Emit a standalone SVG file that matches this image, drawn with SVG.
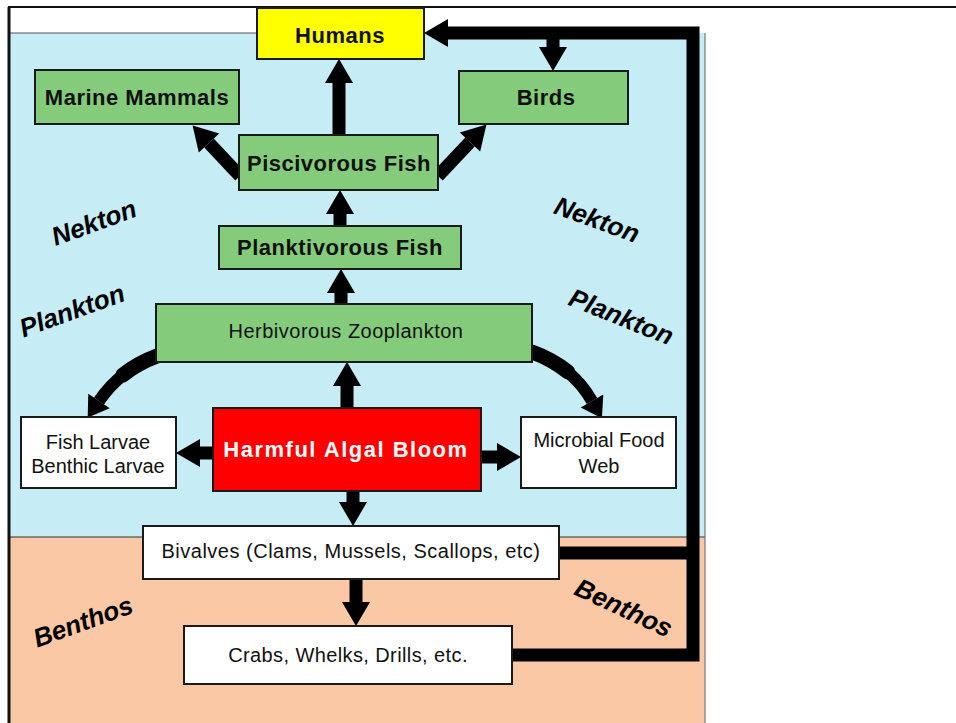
<svg xmlns="http://www.w3.org/2000/svg" width="956" height="723" viewBox="0 0 956 723">
<defs>
<style>
.box{stroke:#1a1a1a;stroke-width:2}
.g{fill:#84cc7c}
.w{fill:#ffffff}
.lb{font-family:"Liberation Sans",Arial,sans-serif;font-weight:bold;font-size:22px;fill:#111;text-anchor:middle;letter-spacing:0.5px}
.lr{font-family:"Liberation Sans",Arial,sans-serif;font-size:20px;fill:#111;text-anchor:middle}
.zone{font-family:"Liberation Sans",Arial,sans-serif;font-weight:bold;font-style:italic;font-size:26px;fill:#000;text-anchor:middle}
.ar{fill:none;stroke:#000;stroke-width:13;marker-end:url(#head)}
.cv{fill:none;stroke:#000;stroke-width:12;marker-end:url(#headS)}
.taper{fill:none;stroke:#000;stroke-width:15;stroke-linecap:round}
</style>
<marker id="head" markerUnits="userSpaceOnUse" markerWidth="30" markerHeight="30" refX="0" refY="14" orient="auto" overflow="visible">
<path d="M0,0 L24,14 L0,28 z" fill="#000"/>
</marker>
<marker id="headS" markerUnits="userSpaceOnUse" markerWidth="30" markerHeight="30" refX="0" refY="13" orient="auto" overflow="visible">
<path d="M0,0 L20,13 L0,26 z" fill="#000"/>
</marker>
</defs>
<rect x="0" y="0" width="956" height="723" fill="#ffffff"/>
<!-- background zones -->
<rect x="9" y="33" width="696" height="504" fill="#c6ecf5"/>
<rect x="9" y="537" width="696" height="186" fill="#fbc8a6"/>
<line x1="9" y1="537" x2="705" y2="537" stroke="#333" stroke-width="1.2"/>
<line x1="705" y1="33" x2="705" y2="723" stroke="#777" stroke-width="1.2"/>
<line x1="9" y1="33" x2="257" y2="33" stroke="#555" stroke-width="1"/>
<line x1="8" y1="7" x2="956" y2="7" stroke="#111" stroke-width="2"/>
<line x1="9" y1="7" x2="9" y2="723" stroke="#111" stroke-width="3"/>

<!-- zone labels -->
<text class="zone" transform="translate(97,231) rotate(-20)">Nekton</text>
<text class="zone" transform="translate(75,319) rotate(-20)">Plankton</text>
<text class="zone" transform="translate(594,228) rotate(20)">Nekton</text>
<text class="zone" transform="translate(618,325) rotate(22)">Plankton</text>
<text class="zone" transform="translate(86,630) rotate(-20)">Benthos</text>
<text class="zone" transform="translate(620,616) rotate(25)">Benthos</text>

<!-- connectors -->
<g id="connectors">
<path class="ar" d="M339,135 V83"/>
<path class="ar" d="M340,226 V214"/>
<path class="ar" d="M341,304 V293"/>
<path class="ar" d="M347,408 V386"/>
<path class="ar" d="M353,491 V502"/>
<path class="ar" d="M213,453 H200"/>
<path class="ar" d="M481,457 H497"/>
<path class="ar" d="M356,579 V602"/>
<path class="ar" d="M240,176 L209,143"/>
<path class="ar" d="M438,176 L470,142"/>
<path class="cv" d="M157,356 C130,366 112,382 99,401"/>
<path class="taper" d="M157,356 C143.5,361 132.25,367.5 122.75,375.1"/>
<path class="cv" d="M532,352 C560,362 580,380 592,401"/>
<path class="taper" d="M532,352 C546,357 558,364 568,372"/>
<path fill="none" stroke="#000" stroke-width="13" stroke-linejoin="miter" d="M512,655 H693 V33 H448" marker-end="url(#head)"/>
<path fill="none" stroke="#000" stroke-width="13" d="M559,553 H693"/>
<path class="ar" d="M553,33 V47"/>
</g>

<!-- nodes -->
<g id="humans">
<rect class="box" x="257" y="8" width="167" height="51" fill="#ffff00"/>
<text class="lb" x="340" y="43">Humans</text>
</g>
<g id="marine-mammals">
<rect class="box g" x="35" y="70" width="204" height="54"/>
<text class="lb" x="137" y="105">Marine Mammals</text>
</g>
<g id="birds">
<rect class="box g" x="459" y="71" width="169" height="53"/>
<text class="lb" x="546" y="105">Birds</text>
</g>
<g id="piscivorous-fish">
<rect class="box g" x="239" y="135" width="199" height="55"/>
<text class="lb" x="339" y="171">Piscivorous Fish</text>
</g>
<g id="planktivorous-fish">
<rect class="box g" x="219" y="226" width="242" height="43"/>
<text class="lb" x="340" y="255">Planktivorous Fish</text>
</g>
<g id="herbivorous-zooplankton">
<rect class="box g" x="156" y="304" width="376" height="58"/>
<text class="lr" x="346" y="338" letter-spacing="0.5">Herbivorous Zooplankton</text>
</g>
<g id="fish-larvae">
<rect class="box w" x="21" y="417" width="155" height="71"/>
<text class="lr" x="98" y="449" font-size="21">Fish Larvae</text>
<text class="lr" x="98" y="473" font-size="21">Benthic Larvae</text>
</g>
<g id="harmful-algal-bloom">
<rect class="box" x="213" y="408" width="268" height="83" fill="#ff0000"/>
<text class="lb" x="346" y="457" style="fill:#ffffff;letter-spacing:1.5px">Harmful Algal Bloom</text>
</g>
<g id="microbial-food-web">
<rect class="box w" x="521" y="417" width="155" height="71"/>
<text class="lr" x="599" y="447">Microbial Food</text>
<text class="lr" x="599" y="473">Web</text>
</g>
<g id="bivalves">
<rect class="box w" x="143" y="526" width="416" height="53"/>
<text class="lr" x="351" y="558" letter-spacing="0.5">Bivalves (Clams, Mussels, Scallops, etc)</text>
</g>
<g id="crabs">
<rect class="box w" x="184" y="626" width="328" height="58"/>
<text class="lr" x="348" y="662" letter-spacing="0.4">Crabs, Whelks, Drills, etc.</text>
</g>
</svg>
